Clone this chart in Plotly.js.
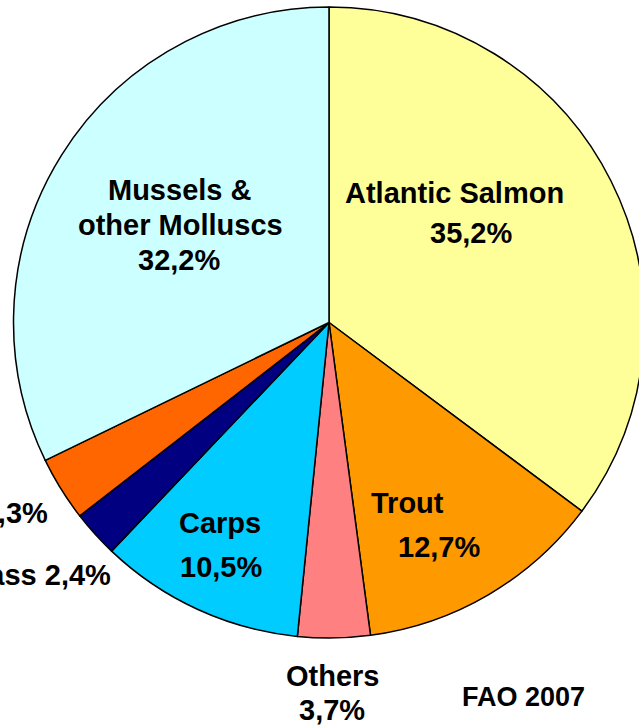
<!DOCTYPE html>
<html>
<head>
<meta charset="utf-8">
<script src="https://cdn.plot.ly/plotly-3.0.1.min.js"></script>
<style>
  html, body { margin: 0; padding: 0; overflow: hidden; background: #ffffff; width: 639px; height: 726px; }
  #chart { position: absolute; left: -100px; top: 0; width: 800px; height: 726px; }
</style>
</head>
<body>
<div id="chart"></div>
<script>
// ---- data ----
const categories = ["Atlantic Salmon", "Trout", "Others", "Carps", "Seabass", "Seabream", "Mussels & other Molluscs"];
const shares = [35.2, 12.7, 3.7, 10.5, 2.4, 3.3, 32.2];
const sliceColors = ["#FFFF99", "#FF9900", "#FF8080", "#00CCFF", "#000080", "#FF6600", "#CCFFFF"];
const labelLines = [
  ["Atlantic Salmon", "35,2%"],
  ["Trout", "12,7%"],
  ["Others", "3,7%"],
  ["Carps", "10,5%"],
  ["Seabass 2,4%"],
  ["Seabream 3,3%"],
  ["Mussels &", "other Molluscs", "32,2%"]
];
const sourceNote = "FAO 2007";

// ---- layout helpers (page pixel -> paper) ----
const W = 800, H = 726, OFFX = 100;
const px = x => (x + OFFX) / W;
const py = y => 1 - y / H;

const cx = 329, cy = 322.5, R = 315.5;

// label anchor positions (page px): one entry per line
const labelPos = [
  [[454, 193, "center"], [471, 233, "center"]],
  [[407, 503, "center"], [439, 547, "center"]],
  [[332, 676, "center"], [332, 710, "center"]],
  [[220, 523, "center"], [221, 567, "center"]],
  [[113, 575, "right"]],
  [[50, 513, "right"]],
  [[180, 190, "center"], [180, 225, "center"], [179, 260, "center"]]
];

const fontFam = "Liberation Sans, Arial, sans-serif";
const annotations = [];
labelLines.forEach((lines, i) => {
  lines.forEach((t, j) => {
    const p = labelPos[i][j];
    annotations.push({
      text: t, xref: "paper", yref: "paper",
      x: px(p[0]), y: py(p[1]), xanchor: p[2], yanchor: "middle",
      showarrow: false,
      font: { family: fontFam, size: 29, color: "#000000", weight: 700 }
    });
  });
});
annotations.push({
  text: sourceNote, xref: "paper", yref: "paper",
  x: px(523.5), y: py(697), xanchor: "center", yanchor: "middle",
  showarrow: false,
  font: { family: fontFam, size: 27, color: "#000000", weight: 700 }
});

const trace = {
  type: "pie",
  labels: categories,
  values: shares,
  sort: false,
  direction: "clockwise",
  rotation: 0,
  textinfo: "none",
  hoverinfo: "label+percent",
  marker: { colors: sliceColors, line: { color: "#000000", width: 1.5 } },
  domain: { x: [px(cx - R), px(cx + R)], y: [py(cy + R), py(cy - R)] },
  showlegend: false
};

const layout = {
  width: W, height: H,
  margin: { l: 0, r: 0, t: 0, b: 0, pad: 0 },
  paper_bgcolor: "#ffffff",
  plot_bgcolor: "#ffffff",
  showlegend: false,
  annotations: annotations
};

Plotly.newPlot("chart", [trace], layout, { displayModeBar: false, staticPlot: true });
</script>
</body>
</html>
